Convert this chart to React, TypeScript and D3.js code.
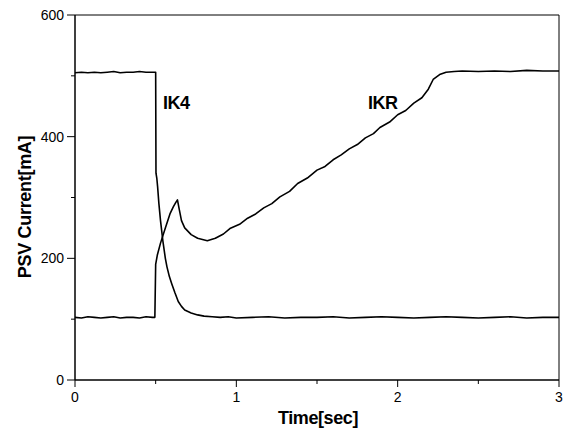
import * as d3 from 'd3';
import React from 'react';

// IK4: starts high, drops at 0.5 s
const ik4Time = [0, 0.04, 0.08, 0.12, 0.16, 0.2, 0.24, 0.28, 0.32, 0.36, 0.4, 0.44, 0.48, 0.5,
  0.502, 0.507, 0.512, 0.52, 0.53, 0.545, 0.56, 0.57, 0.585, 0.6, 0.62, 0.64, 0.66, 0.68, 0.72, 0.76,
  0.8, 0.85, 0.9, 0.95, 1.0, 1.1, 1.2, 1.3, 1.4, 1.5, 1.6, 1.7, 1.8, 1.9, 2.0, 2.1, 2.2, 2.3, 2.4,
  2.5, 2.6, 2.7, 2.8, 2.9, 3.0]
const ik4Value = [505, 506, 505, 506, 505, 506, 507, 505, 506, 506, 507, 506, 506, 506,
  340, 332, 318, 290, 262, 228, 200, 186, 170, 158, 143, 129, 121, 115, 110, 107,
  105, 104, 103, 104, 102, 103, 104, 102, 103, 103, 104, 102, 103, 104, 103, 102, 103, 104, 103,
  102, 103, 104, 102, 103, 103]

// IKR: starts low, rises at 0.5 s
const ikrTime = [0, 0.04, 0.08, 0.12, 0.16, 0.2, 0.24, 0.28, 0.32, 0.36, 0.4, 0.44, 0.48, 0.495,
  0.5, 0.51, 0.53, 0.56, 0.59, 0.61, 0.625, 0.635, 0.645, 0.66, 0.68, 0.72, 0.76, 0.82, 0.87,
  0.92, 0.96, 1.02, 1.07, 1.12, 1.17, 1.22, 1.27, 1.33, 1.38, 1.44, 1.5, 1.55, 1.6, 1.65, 1.7,
  1.75, 1.8, 1.85, 1.89, 1.95, 2.0, 2.05, 2.1, 2.15, 2.19, 2.22, 2.26,
  2.3, 2.35, 2.4, 2.5, 2.6, 2.7, 2.8, 2.9, 3.0]
const ikrValue = [103, 102, 104, 103, 102, 103, 104, 102, 103, 103, 102, 104, 103, 103,
  190, 205, 225, 250, 274, 285, 292, 296, 282, 262, 250, 239, 233, 229, 233,
  240, 249, 256, 266, 273, 283, 290, 301, 310, 323, 332, 345, 351, 362, 370, 380,
  387, 398, 405, 415, 424, 436, 443, 455, 464, 478, 494, 502,
  506, 507, 508, 507, 508, 507, 509, 508, 508]

const xTicks = [0, 1, 2, 3]
const xMinorTicks = [0.5, 1.5, 2.5]
const yTicks = [0, 200, 400, 600]
const yMinorTicks = [100, 300, 500]

const W = 568
const H = 429
const margin = { top: 15, right: 9, bottom: 49, left: 75 }

export default function App() {
  const x = d3.scaleLinear().domain([0, 3]).range([margin.left, W - margin.right])
  const y = d3.scaleLinear().domain([0, 600]).range([H - margin.bottom, margin.top])

  const line = d3.line<[number, number]>()
    .x(d => x(d[0]))
    .y(d => y(d[1]))

  const ik4 = ik4Time.map((t, i) => [t, ik4Value[i]] as [number, number])
  const ikr = ikrTime.map((t, i) => [t, ikrValue[i]] as [number, number])

  const x0 = x(0), x1 = x(3), y0 = y(0), y1 = y(600)
  const font = 'Liberation Sans, Arial, sans-serif'

  return (
    <svg width={W} height={H} style={{ position: 'absolute', left: 0, top: 0, background: '#fff' }}
      fontFamily={font}>
      <rect x={0} y={0} width={W} height={H} fill="#fff" />
      {/* frame */}
      <line x1={x0} x2={x1} y1={y1} y2={y1} stroke="#000" strokeWidth={1} />
      <line x1={x1} x2={x1} y1={y1} y2={y0} stroke="#000" strokeWidth={1} />
      <line x1={x0} x2={x0} y1={y1} y2={y0} stroke="#000" strokeWidth={1.5} />
      <line x1={x0} x2={x1} y1={y0} y2={y0} stroke="#000" strokeWidth={1.5} />

      {yTicks.map(t => (
        <g key={'y' + t}>
          <line x1={x0 - 8} x2={x0} y1={y(t)} y2={y(t)} stroke="#000" strokeWidth={1} />
          <text x={x0 - 11} y={y(t)} dy="0.35em" textAnchor="end" fontSize={14}>{t}</text>
        </g>
      ))}
      {yMinorTicks.map(t => (
        <line key={'ym' + t} x1={x0 - 4} x2={x0} y1={y(t)} y2={y(t)} stroke="#000" strokeWidth={1} />
      ))}
      {xTicks.map(t => (
        <g key={'x' + t}>
          <line x1={x(t)} x2={x(t)} y1={y0} y2={y0 + 7} stroke="#000" strokeWidth={1} />
          <text x={x(t)} y={y0 + 22} textAnchor="middle" fontSize={14}>{t}</text>
        </g>
      ))}
      {xMinorTicks.map(t => (
        <line key={'xm' + t} x1={x(t)} x2={x(t)} y1={y0} y2={y0 + 4} stroke="#000" strokeWidth={1} />
      ))}

      <path d={line(ik4) || ''} fill="none" stroke="#000" strokeWidth={1.6} strokeLinejoin="round" />
      <path d={line(ikr) || ''} fill="none" stroke="#000" strokeWidth={1.6} strokeLinejoin="round" />

      <text x={163} y={109} fontSize={18} fontWeight="bold" letterSpacing={-0.5}>IK4</text>
      <text x={368} y={109} fontSize={18} fontWeight="bold" letterSpacing={-0.5}>IKR</text>

      <text x={318} y={424} textAnchor="middle" fontSize={18} fontWeight="bold"
        letterSpacing={-0.4}>Time[sec]</text>
      <text transform={`translate(31,207) rotate(-90)`} textAnchor="middle"
        fontSize={18} fontWeight="bold" letterSpacing={-0.3}>PSV Current[mA]</text>
    </svg>
  )
}
